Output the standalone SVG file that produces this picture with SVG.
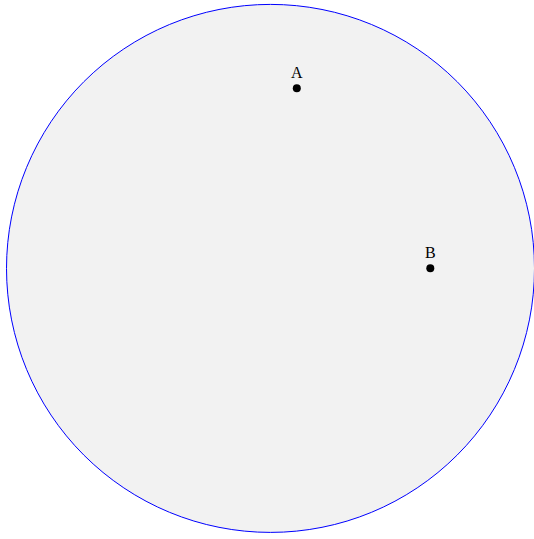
<svg xmlns="http://www.w3.org/2000/svg" width="534" height="539" viewBox="0 0 534 539">
<style>
.lbl{font-family:"Liberation Serif","DejaVu Serif",serif;font-size:16px;fill:#000;text-anchor:middle}
.pt{fill:#000}
</style>
<rect width="534" height="539" fill="#fff"/>
<g id="disk"><circle cx="270.5" cy="268.4" r="264" fill="#f2f2f2" stroke="#0000ff" stroke-width="1"/></g>
<g id="connectors"></g>
<g id="A"><circle class="pt" cx="296.8" cy="88.3" r="4"/><text class="lbl" x="296.8" y="78">A</text></g>
<g id="B"><circle class="pt" cx="430.3" cy="268.3" r="4"/><text class="lbl" x="430.3" y="258">B</text></g>
</svg>
